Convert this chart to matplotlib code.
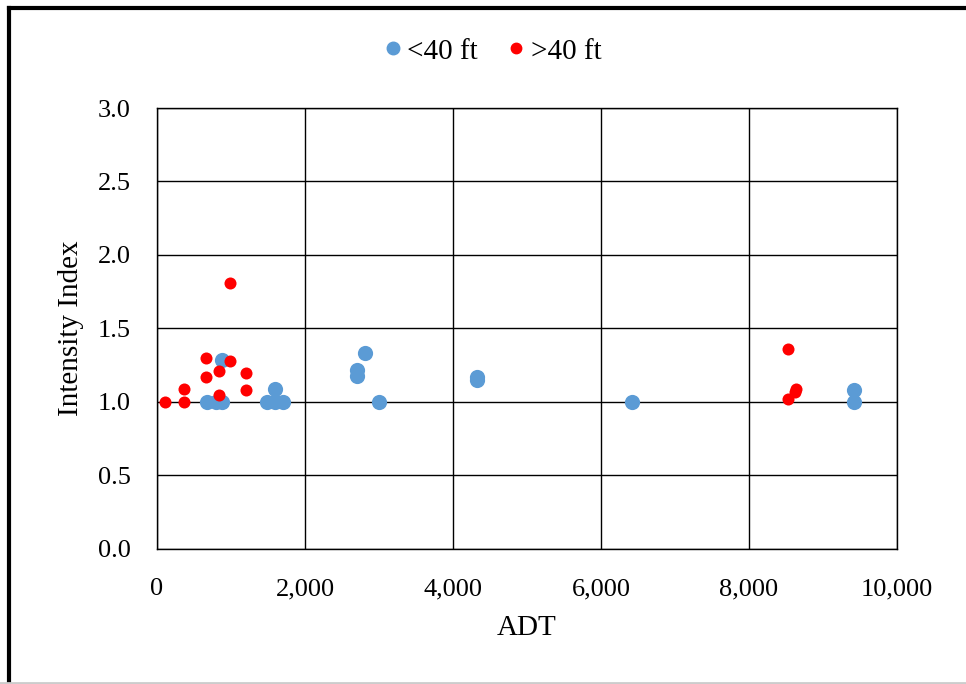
import matplotlib.pyplot as plt
from matplotlib.lines import Line2D

plt.rcParams['font.family'] = ['Liberation Serif', 'DejaVu Serif']

# <40 ft
short_adt = [680, 800, 874, 874, 1491, 1595, 1595, 1707, 2707, 2707, 2811, 3000, 4320, 4320, 6414, 9423, 9423]
short_idx = [1.0, 1.0, 1.0, 1.285, 1.0, 1.0, 1.09, 1.0, 1.18, 1.215, 1.33, 1.0, 1.15, 1.17, 1.0, 1.0, 1.08]

# >40 ft
long_adt = [104, 369, 369, 662, 662, 833, 833, 986, 986, 1198, 1198, 8522, 8522, 8635, 8620]
long_idx = [1.0, 1.0, 1.09, 1.17, 1.30, 1.045, 1.21, 1.28, 1.81, 1.08, 1.195, 1.02, 1.36, 1.09, 1.065]

x_ticks = [0, 2000, 4000, 6000, 8000, 10000]
y_ticks = [0.0, 0.5, 1.0, 1.5, 2.0, 2.5, 3.0]

fig = plt.figure(figsize=(9.66, 6.84), dpi=100)
ax = fig.add_axes([0.1625, 0.1974, 0.7661, 0.6447])

ax.scatter(short_adt, short_idx, s=120, color='#5B9BD5', zorder=3, label='<40 ft', linewidths=0)
ax.scatter(long_adt, long_idx, s=75, color='#FF0000', zorder=4, label='>40 ft', linewidths=0)

ax.set_xlim(0, 10000)
ax.set_ylim(0, 3.0)
ax.set_xticks(x_ticks)
ax.set_yticks(y_ticks)
ax.set_xticklabels([f'{v:,}' for v in x_ticks])
ax.set_yticklabels([f'{v:.1f}' for v in y_ticks])
ax.tick_params(length=0, labelsize=19)
ax.tick_params(axis='y', pad=19)
ax.tick_params(axis='x', pad=21)
ax.grid(True, color='black', linewidth=1.0)
ax.set_axisbelow(True)
for sp in ax.spines.values():
    sp.set_color('black')
    sp.set_linewidth(1.0)

ax.set_xlabel('ADT', fontsize=21, labelpad=11)
ax.set_ylabel('Intensity Index', fontsize=21, labelpad=10)

handles = [
    Line2D([], [], marker='o', linestyle='', color='#5B9BD5', markersize=9),
    Line2D([], [], marker='o', linestyle='', color='#FF0000', markersize=7.5),
]
fig.legend(handles, ['<40 ft', '>40 ft'], loc='center', bbox_to_anchor=(0.51, 0.925),
           ncol=2, frameon=False, fontsize=21, handlelength=0.6, handletextpad=0.2,
           columnspacing=1.0)

# outer chart frame (right side runs off the image)
fig.add_artist(Line2D([0.0098, 0.0098], [0.0, 0.988], transform=fig.transFigure, color='black', linewidth=3))
fig.add_artist(Line2D([0.0098, 1.0], [0.988, 0.988], transform=fig.transFigure, color='black', linewidth=3))
fig.add_artist(Line2D([0.0, 1.0], [0.002, 0.002], transform=fig.transFigure, color='#cccccc', linewidth=2))

fig.savefig('out.png', dpi=100)
